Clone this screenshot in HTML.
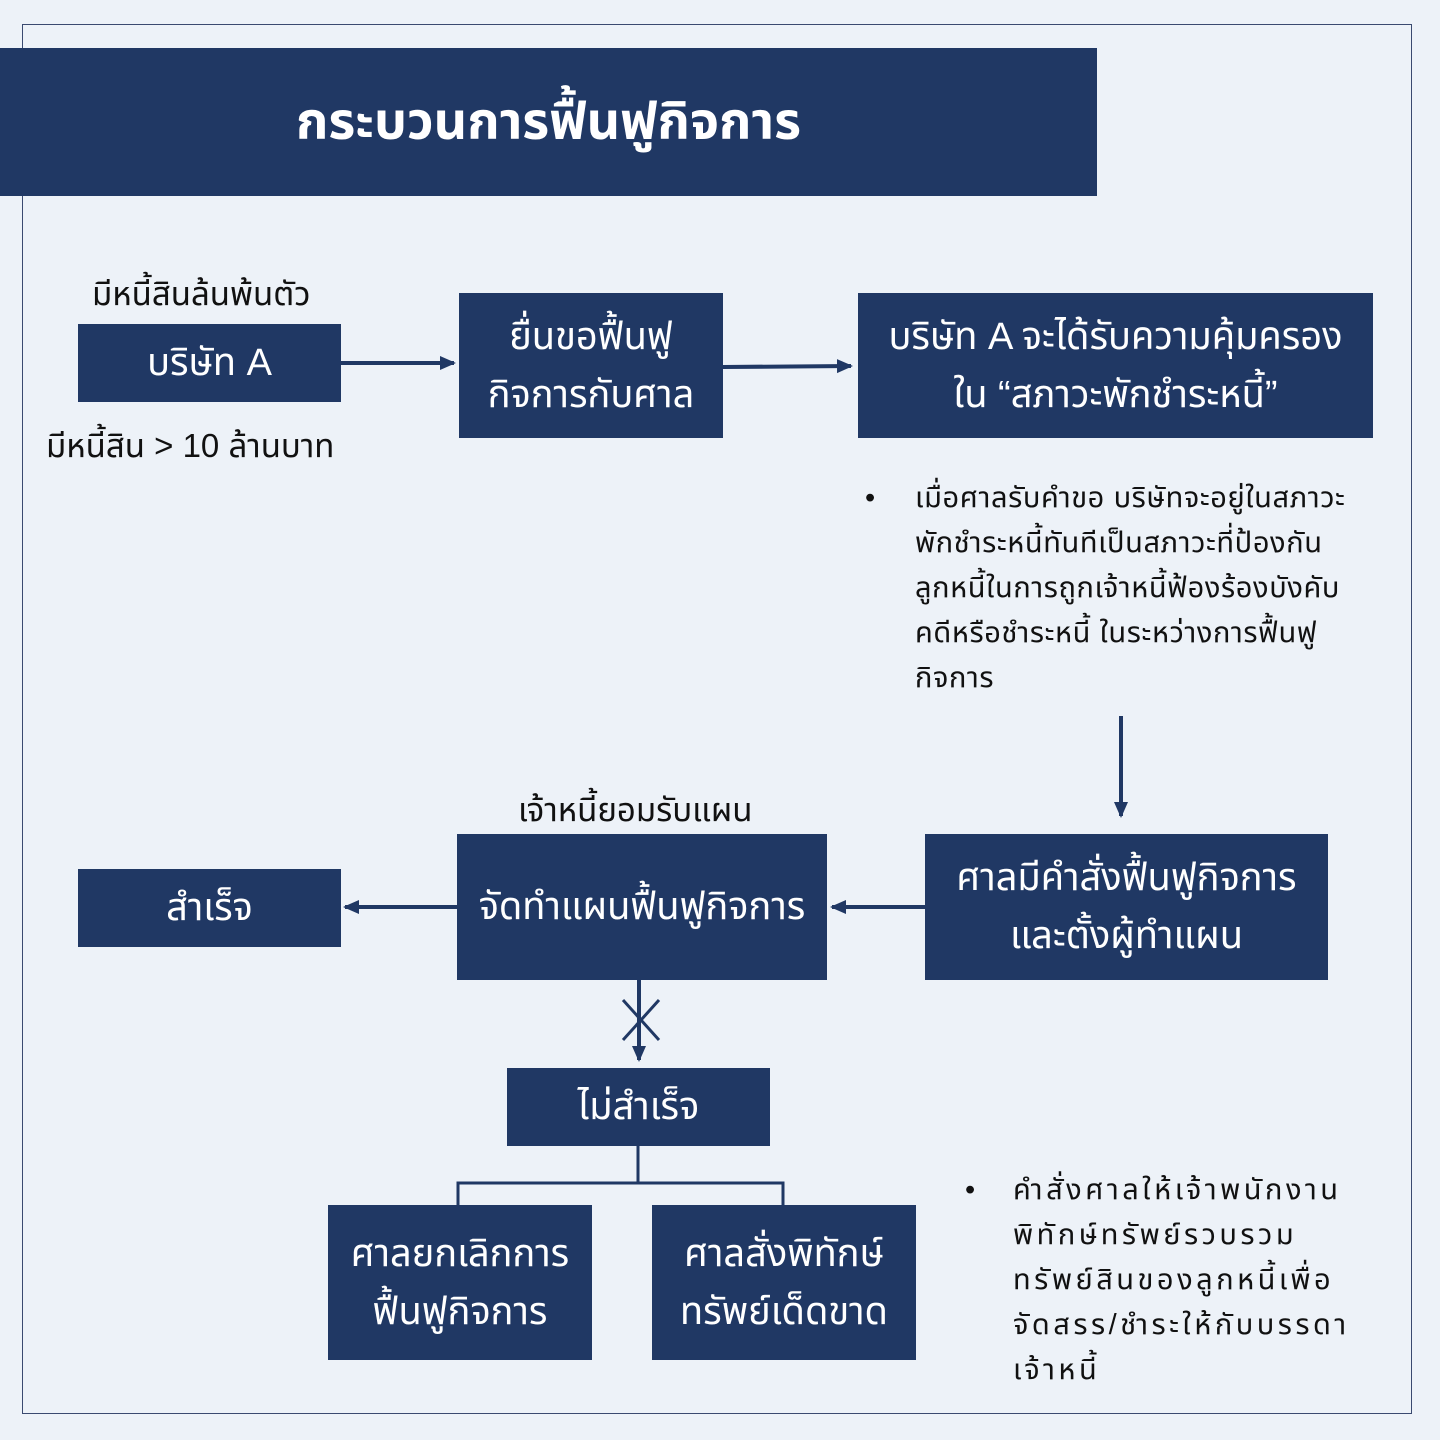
<!DOCTYPE html>
<html><head><meta charset="utf-8"><style>
body{margin:0;width:1440px;height:1440px;background:#edf2f8;position:relative;overflow:hidden;font-family:"Liberation Sans","Noto Sans Thai","Loma","Garuda",sans-serif;}
.frame{position:absolute;left:22px;top:24px;width:1390px;height:1390px;border:1.5px solid #3a4a70;box-sizing:border-box;}
.b{position:absolute;background:#203864;color:#fff;display:flex;align-items:center;justify-content:center;text-align:center;font-size:38px;line-height:58px;}
.t{position:absolute;color:#111;font-size:33px;white-space:nowrap;}
.p{position:absolute;color:#111;font-size:29px;line-height:45px;white-space:nowrap;}
svg{position:absolute;left:0;top:0}
</style></head><body>
<div class="frame"></div>
<div class="b" style="left:0;top:48px;width:1097px;height:148px;font-size:52px;font-weight:bold">กระบวนการฟื้นฟูกิจการ</div>
<div class="t" style="left:92px;top:270px">มีหนี้สินล้นพ้นตัว</div>
<div class="b" style="left:78px;top:324px;width:263px;height:78px">บริษัท A</div>
<div class="t" style="left:46px;top:422px">มีหนี้สิน &gt; 10 ล้านบาท</div>
<div class="b" style="left:459px;top:293px;width:264px;height:145px">ยื่นขอฟื้นฟู<br>กิจการกับศาล</div>
<div class="b" style="left:858px;top:293px;width:515px;height:145px">บริษัท A จะได้รับความคุ้มครอง<br>ใน “สภาวะพักชำระหนี้”</div>
<div class="p" style="left:865px;top:476px">•</div>
<div class="p" style="left:915px;top:476px;letter-spacing:0.6px">เมื่อศาลรับคำขอ บริษัทจะอยู่ในสภาวะ<br>พักชำระหนี้ทันทีเป็นสภาวะที่ป้องกัน<br>ลูกหนี้ในการถูกเจ้าหนี้ฟ้องร้องบังคับ<br>คดีหรือชำระหนี้ ในระหว่างการฟื้นฟู<br>กิจการ</div>
<div class="t" style="left:518px;top:786px">เจ้าหนี้ยอมรับแผน</div>
<div class="b" style="left:78px;top:869px;width:263px;height:78px">สำเร็จ</div>
<div class="b" style="left:457px;top:834px;width:370px;height:146px">จัดทำแผนฟื้นฟูกิจการ</div>
<div class="b" style="left:925px;top:834px;width:403px;height:146px">ศาลมีคำสั่งฟื้นฟูกิจการ<br>และตั้งผู้ทำแผน</div>
<div class="b" style="left:507px;top:1068px;width:263px;height:78px">ไม่สำเร็จ</div>
<div class="b" style="left:328px;top:1205px;width:264px;height:155px">ศาลยกเลิกการ<br>ฟื้นฟูกิจการ</div>
<div class="b" style="left:652px;top:1205px;width:264px;height:155px">ศาลสั่งพิทักษ์<br>ทรัพย์เด็ดขาด</div>
<div class="p" style="left:965px;top:1168px">•</div>
<div class="p" style="left:1013px;top:1168px;letter-spacing:3.5px">คำสั่งศาลให้เจ้าพนักงาน<br>พิทักษ์ทรัพย์รวบรวม<br>ทรัพย์สินของลูกหนี้เพื่อ<br>จัดสรร/ชำระให้กับบรรดา<br>เจ้าหนี้</div>
<svg width="1440" height="1440">
<defs><marker id="a" markerWidth="16" markerHeight="16" refX="14" refY="8" orient="auto" markerUnits="userSpaceOnUse" viewBox="0 0 16 16"><path d="M0,1L16,8L0,15z" fill="#203864"/></marker></defs>
<g stroke="#203864" stroke-width="4" fill="none">
<line x1="341" y1="363" x2="454" y2="363" marker-end="url(#a)"/>
<line x1="723" y1="367" x2="851" y2="366" marker-end="url(#a)"/>
<line x1="1121" y1="716" x2="1121" y2="816" marker-end="url(#a)"/>
<line x1="925" y1="907" x2="832" y2="907" marker-end="url(#a)"/>
<line x1="457" y1="907" x2="345" y2="907" marker-end="url(#a)"/>
<line x1="639" y1="980" x2="639" y2="1060" marker-end="url(#a)"/>
<line x1="623" y1="1000" x2="659" y2="1040" stroke-width="3"/>
<line x1="659" y1="1000" x2="623" y2="1040" stroke-width="3"/>
<path d="M638,1146V1183M458,1205V1183H783V1205" stroke-width="3"/>
</g></svg>
</body></html>
